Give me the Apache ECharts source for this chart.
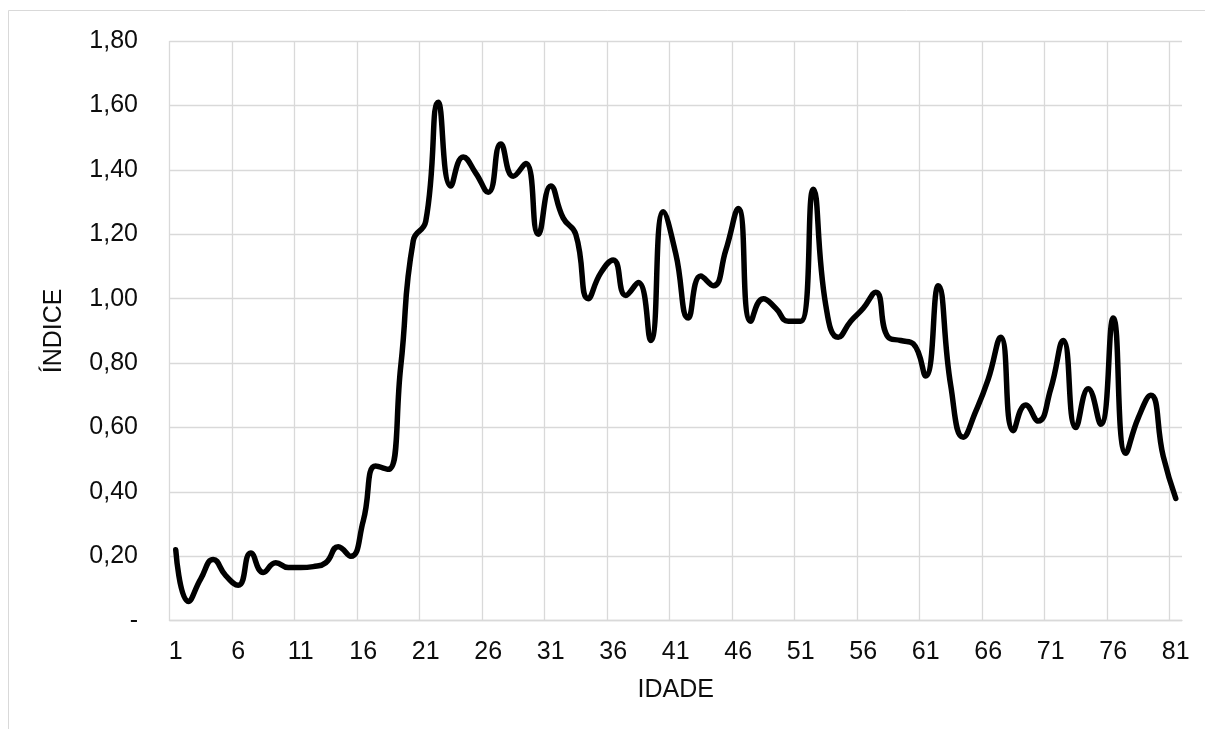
<!DOCTYPE html>
<html>
<head>
<meta charset="utf-8">
<script src="https://cdn.jsdelivr.net/npm/echarts@6/dist/echarts.min.js"></script>
<style>
  html, body { margin: 0; padding: 0; background: #fff; }
  #chart { width: 1205px; height: 729px; }
</style>
</head>
<body>
<div id="chart"></div>
<script>
// idade 1..81
var idades = [];
for (var i = 1; i <= 81; i++) idades.push(String(i));

// índice
var indice = [
  0.22, 0.06, 0.13, 0.19, 0.14, 0.11, 0.21, 0.15, 0.18, 0.165,
  0.165, 0.168, 0.18, 0.23, 0.20, 0.31, 0.48, 0.47, 0.79, 1.18,
  1.24, 1.61, 1.35, 1.44, 1.39, 1.33, 1.48, 1.38, 1.42, 1.20,
  1.35, 1.25, 1.20, 1.00, 1.08, 1.12, 1.01, 1.05, 0.87, 1.27,
  1.14, 0.94, 1.07, 1.04, 1.15, 1.28, 0.93, 1.00, 0.97, 0.93,
  0.93, 1.34, 0.98, 0.88, 0.93, 0.97, 1.02, 0.88, 0.87, 0.86,
  0.76, 1.04, 0.73, 0.57, 0.65, 0.75, 0.88, 0.59, 0.67, 0.62,
  0.72, 0.87, 0.60, 0.72, 0.61, 0.94, 0.52, 0.63, 0.70, 0.51,
  0.38
];

var gridColor = '#d9d9d9';
var textColor = '#0d0d0d';
var fontFamily = '"Liberation Sans", Arial, sans-serif';

// 17 linhas verticais visíveis; a última (borda direita) fica oculta
var vLineColors = [];
for (var k = 0; k < 17; k++) vLineColors.push(gridColor);
vLineColors.push('rgba(0,0,0,0)');

var chart = echarts.init(document.getElementById('chart'));
chart.setOption({
  animation: false,
  backgroundColor: '#fff',
  graphic: [{
    type: 'rect',
    shape: { x: 8.5, y: 10.5, width: 1300, height: 800 },
    style: { fill: 'none', stroke: gridColor, lineWidth: 1 },
    silent: true
  }],
  grid: { left: 169.5, right: 23, top: 41, bottom: 108.3 },
  xAxis: {
    type: 'category',
    data: idades,
    boundaryGap: true,
    name: 'IDADE',
    nameLocation: 'middle',
    nameGap: 56.5,
    nameTextStyle: { fontFamily: fontFamily, fontSize: 25, color: textColor },
    axisLine: { lineStyle: { color: gridColor, width: 1.3 } },
    axisTick: { show: false, interval: 4 },
    axisLabel: { interval: 4, margin: 18.5, fontFamily: fontFamily, fontSize: 25, color: textColor },
    splitLine: { show: true, interval: 4, lineStyle: { color: vLineColors, width: 1.3 } }
  },
  yAxis: {
    type: 'value',
    min: 0,
    max: 1.8,
    interval: 0.2,
    name: 'ÍNDICE',
    nameLocation: 'middle',
    nameGap: 103,
    nameTextStyle: { fontFamily: fontFamily, fontSize: 25, color: textColor },
    axisLine: { show: false },
    axisTick: { show: false },
    axisLabel: {
      margin: 31.5,
      fontFamily: fontFamily,
      fontSize: 25,
      color: textColor,
      formatter: function (v) {
        if (Math.abs(v) < 1e-9) return '-';
        return v.toFixed(2).replace('.', ',');
      }
    },
    splitLine: { lineStyle: { color: gridColor, width: 1.3 } }
  },
  series: [{
    type: 'line',
    data: indice,
    smooth: 0.5,
    symbol: 'none',
    lineStyle: { color: '#000', width: 5.5, cap: 'round', join: 'round' }
  }]
});
</script>
</body>
</html>
